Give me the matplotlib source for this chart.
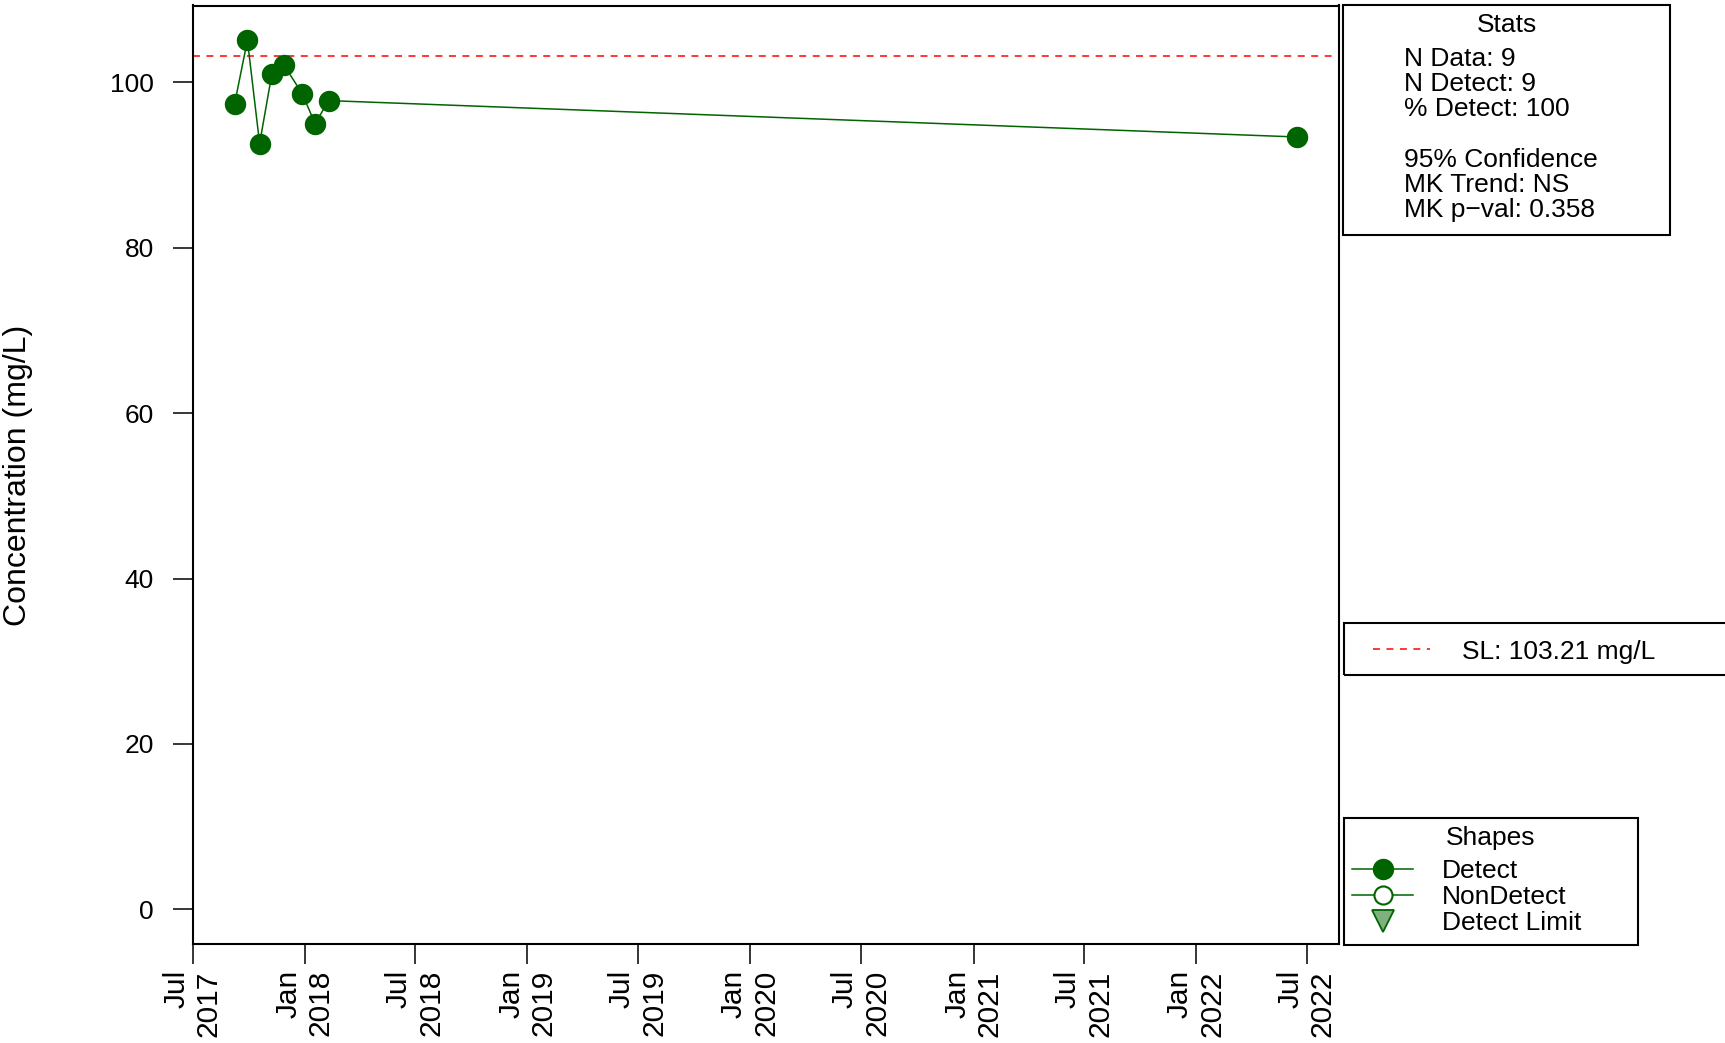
#! /usr/bin/env python
"""Concentration time series with stats / SL / shapes side boxes."""


### import ########################################################################################


import numpy as np
import pandas as pd

import matplotlib
matplotlib.use('Agg')
import matplotlib.pyplot as plt
import matplotlib.dates as mdates
from matplotlib.patches import Rectangle
from matplotlib.lines import Line2D


### data ##########################################################################################


sample_dates = ['2017-09-08', '2017-09-29', '2017-10-19', '2017-11-08', '2017-11-28',
                '2017-12-28', '2018-01-18', '2018-02-09', '2022-06-15']
concentration = [97.4, 105.1, 92.6, 101.0, 102.1, 98.6, 95.0, 97.8, 93.4]
screening_level = 103.21

y_ticks = [0, 20, 40, 60, 80, 100]
x_tick_dates = pd.date_range('2017-07-01', '2022-07-01', freq='6MS')

stats_title = 'Stats'
stats_lines = ['N Data: 9', 'N Detect: 9', '% Detect: 100', '',
               '95% Confidence', 'MK Trend: NS', 'MK p\u2212val: 0.358']
sl_label = 'SL: 103.21 mg/L'
shapes_title = 'Shapes'
shapes_labels = ['Detect', 'NonDetect', 'Detect Limit']
y_label = 'Concentration (mg/L)'


### define ########################################################################################


W, H = 1725, 1043
green = '#006400'
tri_fill = '#7fb17f'
fs_box = 19

plt.rcParams['font.family'] = ['Liberation Sans', 'DejaVu Sans']
plt.rcParams['lines.scale_dashes'] = False


def fx(px):
    return px / W


def fy(py):
    # small downward shift so va='center' matches R's text placement
    return 1 - (py + 2.5) / H


fig = plt.figure(figsize=(W / 100, H / 100), dpi=100)
ax = fig.add_axes([192.5 / W, 1 - 944 / H, (1339 - 192.5) / W, (944 - 5.5) / H])

### main plot #####################################################################################


x = pd.to_datetime(sample_dates)
ax.plot(x, concentration, '-', color=green, lw=1.1, zorder=3)
ax.plot(x, concentration, 'o', color=green, ms=14.4, mec=green, zorder=4)
ax.axhline(screening_level, color='red', lw=1.1, ls=(0, (5, 4.7)), zorder=2)

ax.set_xlim(pd.Timestamp('2017-07-01'), pd.Timestamp('2022-08-23'))
ax.set_ylim(-4.2, 109.3)

ax.set_yticks(y_ticks)
ax.set_yticklabels([str(t) for t in y_ticks], fontsize=19)
ax.set_xticks(x_tick_dates)
ax.set_xticklabels([d.strftime('%b\n%Y') for d in x_tick_dates], fontsize=21.5,
                   rotation=90, ha='center', va='top', multialignment='right')
ax.tick_params(axis='y', length=14.4, width=1.1, pad=13.5)
ax.tick_params(axis='x', length=14.4, width=1.1, pad=4.5)
for s in ax.spines.values():
    s.set_linewidth(1.5)

fig.text(fx(18), fy(473), y_label, rotation=90, ha='center', va='center', fontsize=23)

### side boxes ####################################################################################


def box(x0, y0, x1, y1):
    fig.add_artist(Rectangle((x0 / W, 1 - y1 / H), (x1 - x0) / W, (y1 - y0) / H,
                             transform=fig.transFigure, fill=False, ec='black',
                             lw=1.5, clip_on=False))


# stats
box(1343, 5, 1670, 235)
fig.text(fx(1506.5), fy(22), stats_title, ha='center', va='center', fontsize=fs_box)
for i, line in enumerate(stats_lines):
    fig.text(fx(1404), fy(56 + 25.3 * i), line, ha='left', va='center', fontsize=fs_box)

# screening level
box(1344, 623, 1760, 675)
fig.add_artist(Line2D([fx(1373), fx(1430)], [1 - 649 / H] * 2, transform=fig.transFigure,
                      color='red', lw=1.1, ls=(0, (5, 4.7))))
fig.text(fx(1462), fy(649), sl_label, ha='left', va='center', fontsize=fs_box)

# shapes
box(1344, 818, 1638, 945)
fig.text(fx(1491), fy(835), shapes_title, ha='center', va='center', fontsize=fs_box)
rows = [869, 894.5, 921]
for yy, label in zip(rows, shapes_labels):
    fig.text(fx(1442), fy(yy), label, ha='left', va='center', fontsize=fs_box)

ry = [1 - r / H for r in rows]
fig.add_artist(Line2D([fx(1352), fx(1413)], [ry[0]] * 2, transform=fig.transFigure,
                      color=green, lw=1.1))
fig.add_artist(Line2D([fx(1383)], [ry[0]], transform=fig.transFigure, marker='o',
                      ms=14.4, color=green, mec=green, ls='none'))
fig.add_artist(Line2D([fx(1352), fx(1413)], [ry[1]] * 2, transform=fig.transFigure,
                      color=green, lw=1.1))
fig.add_artist(Line2D([fx(1383)], [ry[1]], transform=fig.transFigure, marker='o',
                      ms=13, mfc='white', mec=green, mew=1.5, ls='none'))
fig.add_artist(Line2D([fx(1383)], [ry[2]], transform=fig.transFigure, marker='v',
                      ms=16, mfc=tri_fill, mec=green, mew=1.3, ls='none'))

# save
fig.savefig('out.png', dpi=100)
plt.close(fig)
